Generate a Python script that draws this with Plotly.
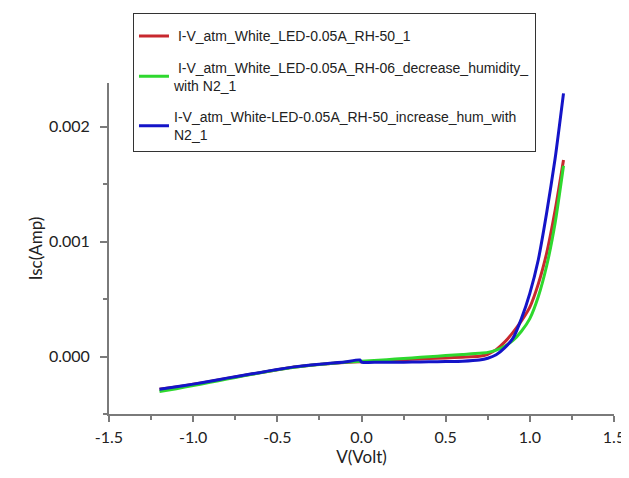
import plotly.graph_objects as go

# ---- data ----
v_red = [-1.2, -1.1, -1.0, -0.9, -0.8, -0.7, -0.6, -0.5, -0.4, -0.3, -0.2, -0.1, 0.0,
         0.1, 0.2, 0.3, 0.4, 0.5, 0.6, 0.7, 0.75, 0.8, 0.85, 0.9, 0.95, 1.0, 1.05, 1.1, 1.15, 1.2]
i_red = [-0.000285, -0.000265, -0.000242, -0.000218, -0.000190, -0.000165, -0.000140, -0.000115,
         -0.000092, -0.000075, -0.000062, -0.000052, -0.000045,
         -0.000040, -0.000032, -0.000024, -0.000018, -0.000012, -0.000006, 0.000002, 0.000020,
         0.000060, 0.000125, 0.000210, 0.000310, 0.000430, 0.000630, 0.000900, 0.001270, 0.001710]

v_green = [-1.2, -1.1, -1.0, -0.9, -0.8, -0.7, -0.6, -0.5, -0.4, -0.3, -0.2, -0.1, 0.0,
           0.1, 0.2, 0.3, 0.4, 0.5, 0.6, 0.7, 0.75, 0.8, 0.85, 0.9, 0.95, 1.0, 1.05, 1.1, 1.15, 1.2]
i_green = [-0.000305, -0.000280, -0.000252, -0.000225, -0.000196, -0.000168, -0.000142, -0.000116,
           -0.000094, -0.000076, -0.000062, -0.000050, -0.000042,
           -0.000032, -0.000022, -0.000012, -0.000002, 0.000008, 0.000018, 0.000028, 0.000036,
           0.000055, 0.000090, 0.000140, 0.000220, 0.000330, 0.000520, 0.000790, 0.001160, 0.001660]

v_blue = [-1.2, -1.1, -1.0, -0.9, -0.8, -0.7, -0.6, -0.5, -0.4, -0.3, -0.2, -0.1, -0.01, 0.0,
          0.1, 0.2, 0.3, 0.4, 0.5, 0.6, 0.7, 0.75, 0.8, 0.85, 0.9, 0.95, 1.0, 1.05, 1.1, 1.15, 1.2]
i_blue = [-0.000285, -0.000262, -0.000240, -0.000215, -0.000188, -0.000163, -0.000138, -0.000112,
          -0.000090, -0.000073, -0.000060, -0.000048, -0.000030, -0.000048,
          -0.000050, -0.000050, -0.000048, -0.000046, -0.000043, -0.000040, -0.000030, -0.000015,
          0.000015, 0.000075, 0.000160, 0.000330, 0.000550, 0.000840, 0.001250, 0.001720, 0.002290]

names = [" I-V_atm_White_LED-0.05A_RH-50_1",
         " I-V_atm_White_LED-0.05A_RH-06_decrease_humidity_<br>with N2_1",
         "I-V_atm_White-LED-0.05A_RH-50_increase_hum_with<br>N2_1"]

x_tickvals = [-1.5, -1.0, -0.5, 0.0, 0.5, 1.0, 1.5]
x_ticktext = ["-1.5", "-1.0", "-0.5", "0.0", "0.5", "1.0", "1.5"]
y_tickvals = [0.0, 0.001, 0.002]
y_ticktext = ["0.000", "0.001", "0.002"]

colors = ["#c8282e", "#2ed82e", "#1414c8"]

fig = go.Figure()
for k, (v, i, n, c) in enumerate([(v_red, i_red, names[0], colors[0]),
                                  (v_green, i_green, names[1], colors[1]),
                                  (v_blue, i_blue, names[2], colors[2])]):
    fig.add_trace(go.Scatter(x=v, y=i, mode="lines", name=n, legendgroup=f"g{k}",
                             line=dict(color=c, width=3, shape="spline", smoothing=0.6)))

axis_font = dict(family="Lato, Open Sans, sans-serif", size=16, color="#222222")
title_font = dict(family="Lato, Open Sans, sans-serif", size=17, color="#222222")
fig.update_layout(
    width=621, height=470,
    margin=dict(l=101, r=15, t=75, b=64, autoexpand=False),
    paper_bgcolor="white", plot_bgcolor="white",
    font=dict(family="Liberation Sans, Arial, sans-serif", size=12, color="#222222"),
    showlegend=True,
    legend=dict(x=0.0475, y=1.212, xanchor="left", yanchor="top",
                bgcolor="white", bordercolor="#333333", borderwidth=1,
                font=dict(family="Liberation Sans, Arial, sans-serif", size=14, color="#222222"),
                title=dict(text=" ", font=dict(size=5)),
                tracegroupgap=10, itemwidth=30),
    xaxis=dict(range=[-1.5, 1.5], tickvals=x_tickvals, ticktext=x_ticktext, automargin=False,
               showgrid=False, zeroline=False, showline=True, linecolor="#7a7a7a", linewidth=2,
               ticks="outside", ticklen=6, tickcolor="#7a7a7a", tickwidth=1.5,
               minor=dict(dtick=0.25, ticks="outside", ticklen=4, tickcolor="#7a7a7a", showgrid=False),
               tickfont=axis_font, ticklabelstandoff=2,
               title=dict(text="V(Volt)", font=title_font, standoff=5)),
    yaxis=dict(range=[-0.0005, 0.00238], tickvals=y_tickvals, ticktext=y_ticktext, automargin=False,
               showgrid=False, zeroline=False, showline=True, linecolor="#7a7a7a", linewidth=2,
               ticks="outside", ticklen=7, tickcolor="#7a7a7a", tickwidth=1.5,
               minor=dict(dtick=0.0005, tick0=0, ticks="outside", ticklen=4, tickcolor="#7a7a7a", showgrid=False),
               tickfont=axis_font, ticklabelstandoff=7,
               title=dict(text="Isc(Amp)", font=title_font, standoff=2)),
)

fig.write_html("out.html")
